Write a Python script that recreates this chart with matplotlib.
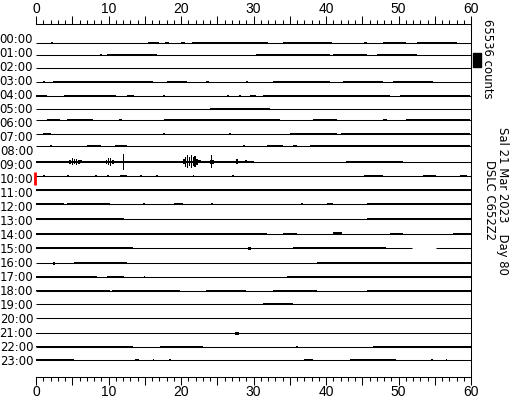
import matplotlib
matplotlib.use('Agg')
import matplotlib.pyplot as plt
from matplotlib.patches import Rectangle

# helicorder, 24 one-hour lines, 65536 counts per line spacing
hours = ['%02d:00' % h for h in range(24)]
counts_per_line = 65536
scale_counts = 65536

# mean level of each line (counts)
offsets = [-12700, -4700, -1900, 900, -900, 2300, 17800, 17400, 26800, 18300,
           16900, 16900, 16400, 10300, 6600, 5200, 0, 2800, 2800, 4200,
           4200, -500, 1900, 4700]

# pieces of each line that carry data (minutes)
spans_15 = [(0, 51.8), (55.2, 60)]

# noisy stretches per line: (start min, end min, half amplitude counts)
noise_00 = [(2.1, 2.3, 2500), (15.5, 17, 2500), (17.8, 18.4, 2500), (20, 20.5, 2500),
            (21.5, 29.5, 2500), (22.5, 24, 5000), (29.5, 32, 2500), (34, 40.8, 2500),
            (45.2, 45.6, 2500), (47.8, 51, 2500), (52.5, 58, 2500)]
noise_01 = [(8.8, 9.1, 2500), (9.8, 16.7, 2500), (17, 19.5, 2000), (20.8, 23.1, 2000),
            (30.4, 40.5, 2500), (41, 45.6, 2500), (47, 52.5, 2500), (55, 57, 2000)]
noise_02 = [(0.1, 0.4, 2500), (2.6, 2.9, 2500), (6.7, 7, 2500), (9.2, 9.5, 2500),
            (14.9, 15.2, 2500), (25.6, 47.9, 2800), (49.2, 51.1, 2500), (52.5, 55.2, 2500),
            (57, 59.8, 2500)]
noise_03 = [(1, 1.2, 2500), (2.4, 16.2, 2800), (18, 20.8, 2000), (23.5, 23.8, 2500),
            (29, 29.3, 2500), (32.7, 40.5, 2500), (42.4, 47.9, 2500), (49.3, 54.8, 2500)]
noise_04 = [(0, 1.5, 2500), (3.8, 11.1, 2800), (12.5, 13.5, 2500), (17.5, 17.8, 2500),
            (20.8, 22.6, 2000), (26.3, 26.6, 2500), (28, 28.3, 2500), (29.5, 30.4, 2500),
            (31.3, 40.5, 2800), (40.5, 48.8, 2500), (50.2, 59.8, 2800)]
noise_05 = [(3.8, 9.8, 2500), (12.5, 17.1, 2800), (24, 32.3, 4000), (36.4, 48.8, 2800),
            (57.9, 58.2, 2500)]
noise_06 = [(1.5, 3.3, 2500), (4.3, 7.9, 2500), (11.5, 11.8, 2500), (17.6, 24, 2800),
            (24, 33.6, 4000), (38.2, 41.5, 2500), (47.9, 48.4, 2500), (51, 59.8, 2800)]
noise_07 = [(1, 2, 2500), (17.5, 17.8, 2500), (26.6, 26.9, 2500), (35, 41.5, 2500),
            (42, 59.8, 2800)]
noise_08 = [(1.9, 2.2, 2500), (7, 8.9, 2500), (10.9, 12.5, 4000), (28.5, 28.8, 2500),
            (31.8, 34.1, 2500), (35.5, 36, 4000), (37.8, 42, 2800), (42, 59.8, 4000)]
noise_09 = [(0, 30, 4500),
            (4.6, 4.8, 9000), (4.9, 5.1, 16000), (5.2, 5.4, 13000), (5.5, 5.7, 15000),
            (5.8, 6.0, 9000), (6.1, 6.4, 7000),
            (9.6, 9.8, 9000), (9.9, 10.1, 17000), (10.2, 10.4, 19000), (10.5, 10.7, 10000),
            (11.97, 12.08, 37000),
            (20.3, 20.5, 13000), (20.6, 20.75, 24000), (20.85, 21.0, 31000),
            (21.1, 21.25, 22000), (21.35, 21.5, 30000), (21.6, 21.75, 20000),
            (21.85, 22.0, 26000), (22.1, 22.3, 14000), (22.4, 22.8, 7000),
            (24.0, 24.6, 9000), (24.18, 24.28, 30000),
            (25.5, 26.5, 5000), (27.55, 27.85, 12000), (28.85, 29.15, 8000),
            (42.8, 50.6, 2500)]
noise_10 = [(1, 1.2, 2500), (4.3, 4.5, 2500), (8.2, 8.4, 2500), (9.8, 10, 2500),
            (11.6, 12.5, 2500), (14.4, 14.6, 2500), (16.6, 16.8, 2500), (21.6, 21.8, 2500),
            (27.1, 27.3, 2500), (45.2, 47.9, 2500), (53.4, 55.2, 2500), (58.5, 59.5, 2500)]
noise_11 = [(0, 60, 4000)]
noise_12 = [(0, 3.8, 3500), (4.3, 10.2, 2800), (8.3, 8.6, 6000), (14.7, 15, 2800),
            (19, 20.3, 2800), (24.1, 24.4, 2800), (36.5, 36.8, 2800), (40.2, 40.9, 6000),
            (45.6, 50.2, 2800), (50.2, 60, 4500)]
noise_13 = [(0, 12.1, 4500), (13.5, 20.8, 2500), (24.1, 24.4, 2500), (29.5, 34, 2500),
            (36.9, 45.6, 2800), (45.6, 60, 4500)]
noise_14 = [(0, 17.1, 5000), (17.1, 30.9, 2800), (29.5, 31.8, 2500), (34, 36, 2500),
            (41, 42.2, 7000), (48.8, 50.6, 5000), (57.5, 60, 2500)]
noise_15 = [(0, 13.4, 4000), (13.4, 22.6, 2800), (29.2, 29.6, 6000), (29.5, 31, 2500),
            (34, 34.3, 2500), (35.5, 48.3, 3500), (48.3, 51.8, 2500)]
noise_16 = [(2.3, 2.6, 7000), (5.2, 12.5, 4500), (12.5, 23, 3200), (24.4, 27.7, 2500),
            (32.9, 33.2, 3200), (38.7, 60, 4500)]
noise_17 = [(0, 4.3, 4000), (4.3, 8.4, 2800), (9.8, 12.1, 2800), (10.8, 11.2, 5000),
            (14.9, 15.1, 2500), (34.6, 43.3, 2800), (43.3, 60, 4000)]
noise_18 = [(0, 10.2, 3200), (10.5, 19.9, 3500), (23.5, 29, 3200), (32.7, 38.7, 3200),
            (45.6, 60, 3500)]
noise_19 = [(2, 2.2, 2500), (10.8, 11, 2500), (13.4, 30.9, 3500), (31.3, 35.5, 4500),
            (37.8, 52, 3500)]
noise_20 = [(4.5, 4.7, 2500), (10.8, 11, 2500), (15.9, 16.1, 2500), (21.5, 28.6, 3200),
            (32.3, 33.2, 2500), (41.9, 52.5, 3200)]
noise_21 = [(0, 3.3, 2800), (8.3, 8.5, 2500), (10.8, 11, 2500), (14.4, 22.2, 3200),
            (23.4, 23.7, 2500), (27.5, 28, 7000), (29.5, 33.2, 2800), (38.7, 55.2, 3200)]
noise_22 = [(0, 13.4, 2500), (17.1, 23.1, 3200), (35.8, 36.1, 2500), (46.5, 60, 2800),
            (53, 53.5, 5000)]
noise_23 = [(0, 5.2, 2800), (13.7, 14.2, 6000), (16.1, 16.3, 2500), (18.4, 18.6, 2500),
            (36.9, 38.2, 2500), (43.3, 49.7, 3200), (54.5, 54.7, 2500), (56.5, 56.7, 2500)]

noise = [noise_00, noise_01, noise_02, noise_03, noise_04, noise_05, noise_06, noise_07,
         noise_08, noise_09, noise_10, noise_11, noise_12, noise_13, noise_14, noise_15,
         noise_16, noise_17, noise_18, noise_19, noise_20, noise_21, noise_22, noise_23]

marker_hour = 10
station = 'DSLC C652Z2'
date_text = 'Sal 21 Mar 2023   Day 80'

fig = plt.figure(figsize=(5.12, 4.0), dpi=100)
ax = fig.add_axes([36 / 512, 1 - 377 / 400, 435 / 512, 353 / 400])

for i, label in enumerate(hours):
    y0 = -i + offsets[i] / counts_per_line
    spans = spans_15 if i == 15 else [(0, 60)]
    for s0, s1 in spans:
        ax.plot([s0, s1], [y0, y0], color='black', lw=0.75, solid_capstyle='butt')
    for t0, t1, a in noise[i]:
        h = a / counts_per_line
        ax.fill_between([t0, t1], [y0 - h, y0 - h], [y0 + h, y0 + h],
                        color='black', lw=0)
    ax.text(-0.38, -i, label, ha='right', va='center', fontsize=8.4, clip_on=False)

# red mark at the current line
ax.vlines(-0.15, -marker_hour - 0.39, -marker_hour + 0.57, color='red', lw=2, clip_on=False)

# scale bar
ax.add_patch(Rectangle((60.28, -1.93), 1.1, scale_counts / counts_per_line,
                       color='black', clip_on=False))

ax.set_xlim(0, 60)
ax.set_ylim(-24.146, 1.146)
ax.set_yticks([])
ax.set_xticks(range(0, 61, 5))
ax.set_xticks(range(0, 61, 1), minor=True)
ax.set_xticklabels([str(v) if v % 10 == 0 else '' for v in range(0, 61, 5)],
                   fontsize=10, family='Liberation Sans')
ax.tick_params(axis='x', which='both', top=True, labeltop=True, bottom=True,
               labelbottom=True, direction='out', width=0.75)
ax.tick_params(axis='x', which='major', length=6)
ax.tick_params(axis='x', which='minor', length=3)
ax.tick_params(axis='x', which='major', pad=0)
ax.spines['left'].set_visible(False)
for s in ['top', 'bottom', 'right']:
    ax.spines[s].set_linewidth(0.75)

fig.text(487 / 512, 1 - 59 / 400, '65536 counts', rotation=270, ha='center', va='center',
         fontsize=8.4)
fig.text(503 / 512, 1 - 201 / 400, date_text, rotation=270, ha='center', va='center',
         fontsize=8.4)
fig.text(490 / 512, 1 - 200 / 400, station, rotation=270, ha='center', va='center',
         fontsize=8.4)

fig.savefig('out.png', dpi=100)
